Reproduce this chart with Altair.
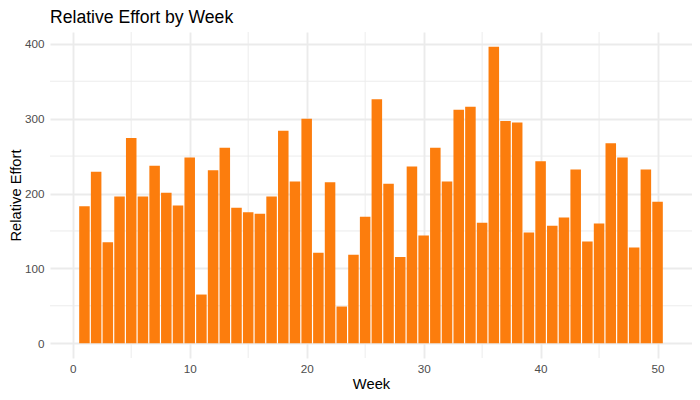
import altair as alt
import pandas as pd

weeks = list(range(1, 51))
effort = [183, 229, 135, 196, 274, 196, 237, 201, 184, 248,
          65, 231, 261, 181, 175, 173, 196, 284, 216, 300,
          121, 215, 49, 118, 169, 326, 213, 115, 236, 144,
          261, 216, 312, 316, 161, 396, 297, 295, 148, 243,
          157, 168, 232, 136, 160, 267, 248, 128, 232, 189]

x_major = [0, 10, 20, 30, 40, 50]
x_minor = [5, 15, 25, 35, 45]
y_major = [0, 100, 200, 300, 400]
y_minor = [50, 150, 250, 350]

bar_color = "#FC7D0D"
grid_color = "#EBEBEB"
FONT = "Liberation Sans"

df = pd.DataFrame({"Week": weeks, "Effort": effort})

xscale = alt.Scale(domain=[-1.945, 52.945], nice=False, zero=False)
yscale = alt.Scale(domain=[-19.8, 415.8], nice=False, zero=False)

xaxis = alt.Axis(values=x_major, grid=True, gridColor=grid_color, gridWidth=1.9,
                 domain=False, ticks=False, labelPadding=5, labelFontSize=11.7,
                 labelColor="#4D4D4D", labelFont=FONT, title="Week",
                 titleFont=FONT, titleFontSize=14.7, titleFontWeight="normal",
                 titleColor="#000000", titlePadding=2, labelFlush=False)
yaxis = alt.Axis(values=y_major, grid=True, gridColor=grid_color, gridWidth=1.9,
                 domain=False, ticks=False, labelPadding=6, labelFontSize=11.7,
                 labelColor="#4D4D4D", labelFont=FONT, title="Relative Effort",
                 titleFont=FONT, titleFontSize=14.7, titleFontWeight="normal",
                 titleColor="#000000", titleX=-42, titleY=163, titleAngle=-90,
                 titleAlign="center", titleBaseline="top", labelFlush=False)

minor_x = alt.Chart(pd.DataFrame({"v": x_minor})).mark_rule(
    color=grid_color, strokeWidth=0.95).encode(x=alt.X("v:Q", scale=xscale, axis=xaxis))
minor_y = alt.Chart(pd.DataFrame({"v": y_minor})).mark_rule(
    color=grid_color, strokeWidth=0.95).encode(y=alt.Y("v:Q", scale=yscale, axis=yaxis))

bars = alt.Chart(df).transform_calculate(
    x0="datum.Week - 0.45", x1="datum.Week + 0.45"
).mark_bar(color=bar_color).encode(
    x=alt.X("x0:Q", scale=xscale, axis=xaxis),
    x2="x1:Q",
    y=alt.Y("Effort:Q", scale=yscale, axis=yaxis),
    y2=alt.datum(0),
)

chart = alt.layer(minor_x, minor_y, bars).properties(
    width=642, height=326,
    autosize=alt.AutoSizeParams(type="none"),
    padding={"left": 42, "top": 24, "right": 0, "bottom": 36},
    title=alt.Title("Relative Effort by Week", anchor="start", frame="group",
                    fontSize=17.6, font=FONT, fontWeight="normal", color="#000000",
                    offset=5),
).configure_view(stroke=None)

chart.save("out.html", embed_options={"renderer": "svg", "actions": False})
